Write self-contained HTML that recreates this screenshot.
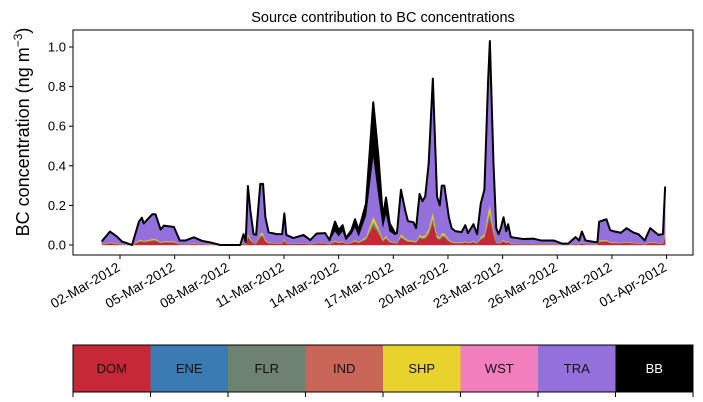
<!DOCTYPE html>
<html><head><meta charset="utf-8">
<style>
body{margin:0;background:#fff;}
svg{font-family:"Liberation Sans","DejaVu Sans",sans-serif;display:block;}
</style></head>
<body>
<svg id="chart" width="703" height="402" viewBox="0 0 703 402" xmlns="http://www.w3.org/2000/svg">
<text x="383" y="22" text-anchor="middle" font-size="14.5">Source contribution to BC concentrations</text>
<text transform="translate(29,132) rotate(-90)" text-anchor="middle" font-size="18">BC concentration (ng m<tspan baseline-shift="super" font-size="12">−3</tspan>)</text>
<g id="areas"></g>
<g id="axes"></g>
<rect x="73" y="30" width="620" height="225" fill="none" stroke="#000" stroke-width="1"/>
<g id="legend"></g>
</svg>
<script>
const days=[1.0,1.45,1.84,2.1,2.66,3.04,3.2,3.3,3.77,3.95,4.23,4.41,4.96,5.28,5.6,6.05,6.5,6.96,7.5,8.6,8.78,8.9,9.02,9.15,9.33,9.47,9.7,9.85,9.98,10.16,10.6,10.9,11.02,11.13,11.52,12.07,12.44,12.8,13.26,13.5,13.8,14.0,14.22,14.4,14.7,14.9,15.1,15.5,15.9,16.18,16.43,16.6,16.8,17.1,17.2,17.42,17.65,17.8,18.1,18.25,18.44,18.6,18.75,18.94,19.17,19.4,19.55,19.66,19.8,20.05,20.2,20.4,20.75,20.95,21.1,21.4,21.6,21.8,22.0,22.2,22.3,22.5,22.65,22.78,22.9,23.05,23.2,23.3,23.45,24.15,24.7,25.1,25.8,26.25,26.6,27.0,27.2,27.35,27.55,28.2,28.3,28.7,28.9,29.15,29.5,29.8,30.2,30.45,30.8,31.1,31.55,31.8,31.92];
const DOM=[.002,.009,.005,.002,0,.015,.018,.014,.020,.020,.010,.013,.012,.003,.003,.005,.003,.002,0,0,.007,.002,.039,.023,.007,.007,.040,.040,.018,.008,.007,.007,.021,.007,.005,.007,.003,.008,.008,.003,.015,.010,.013,.005,.010,.017,.010,.027,.094,.059,.018,.031,.014,.008,.008,.036,.023,.016,.015,.011,.034,.029,.032,.053,.109,.032,.026,.039,.039,.018,.011,.009,.008,.013,.008,.014,.007,.027,.036,.107,.134,.053,.011,.007,.011,.018,.009,.014,.005,.004,.004,.003,.003,.001,.001,.005,.003,.009,.003,.002,.015,.017,.010,.009,.008,.011,.008,.007,.003,.011,.007,.007,.038];
const FLR=[.001,.002,.001,.001,0,.004,.004,.003,.005,.005,.002,.003,.003,.001,.001,.001,.001,0,0,0,.002,0,.009,.005,.002,.002,.009,.009,.004,.002,.002,.002,.005,.002,.001,.002,.001,.002,.002,.001,.004,.002,.003,.001,.002,.004,.002,.006,.022,.014,.004,.007,.003,.002,.002,.008,.005,.004,.003,.003,.008,.007,.007,.012,.025,.007,.006,.009,.009,.004,.003,.002,.002,.003,.002,.003,.002,.006,.008,.025,.031,.012,.003,.002,.003,.004,.002,.003,.001,.001,.001,.001,.001,0,0,.001,.001,.002,.001,0,.004,.004,.002,.002,.002,.003,.002,.002,.001,.003,.002,.002,.009];
const SHP=[.001,.003,.002,.001,0,.005,.006,.004,.006,.006,.003,.004,.004,.001,.001,.002,.001,.001,0,0,.002,.001,.012,.007,.002,.002,.012,.012,.006,.003,.002,.002,.006,.002,.001,.002,.001,.002,.002,.001,.005,.003,.004,.001,.003,.005,.003,.008,.029,.018,.006,.010,.004,.002,.002,.011,.007,.005,.005,.003,.010,.009,.010,.016,.034,.010,.008,.012,.012,.006,.003,.003,.003,.004,.002,.004,.002,.008,.011,.033,.041,.016,.003,.002,.003,.006,.003,.004,.002,.001,.001,.001,.001,0,0,.002,.001,.003,.001,.001,.005,.005,.003,.003,.002,.003,.002,.002,.001,.003,.002,.002,.012];
const TRA=[.011,.051,.031,.011,0,.091,.107,.085,.121,.121,.060,.075,.069,.015,.015,.028,.013,.007,0,0,.041,.009,.235,.139,.041,.037,.245,.245,.109,.048,.041,.041,.125,.037,.025,.037,.017,.043,.045,.017,.046,.03,.05,.018,.04,.064,.03,.108,.306,.16,.062,.112,.048,.038,.045,.221,.139,.093,.089,.065,.203,.173,.193,.325,.669,.193,.157,.237,.237,.109,.065,.053,.049,.077,.045,.081,.041,.165,.221,.653,.821,.325,.065,.041,.065,.109,.053,.081,.029,.021,.023,.015,.015,.003,.003,.029,.015,.051,.015,.007,.091,.101,.057,.051,.047,.065,.047,.041,.015,.065,.037,.041,.233];
const BB=[.003,.003,.003,.003,0,.003,.003,.003,.003,.003,.003,.003,.003,.003,.003,.003,.003,.003,0,0,.003,.003,.003,.003,.003,.003,.003,.003,.003,.003,.003,.003,.003,.003,.003,.003,.003,.003,.003,.003,.048,.03,.03,.01,.02,.04,.03,.06,.27,.2,.05,.08,.04,.01,.003,.003,.003,.003,.003,.003,.003,.003,.003,.003,.003,.003,.003,.003,.003,.003,.003,.003,.003,.003,.003,.003,.003,.003,.003,.003,.003,.003,.003,.003,.003,.003,.003,.003,.003,.003,.003,.003,.003,.003,.003,.003,.003,.003,.003,.003,.003,.003,.003,.003,.003,.003,.003,.003,.003,.003,.003,.003,.003];
const yTicks=[0,0.2,0.4,0.6,0.8,1.0];
const yTickLabels=["0.0","0.2","0.4","0.6","0.8","1.0"];
const xTickDays=[2,5,8,11,14,17,20,23,26,29,32];
const xTickLabels=["02-Mar-2012","05-Mar-2012","08-Mar-2012","11-Mar-2012","14-Mar-2012","17-Mar-2012","20-Mar-2012","23-Mar-2012","26-Mar-2012","29-Mar-2012","01-Apr-2012"];
const legendNames=["DOM","ENE","FLR","IND","SHP","WST","TRA","BB"];
const legendColors=["#c62838","#3a7bb3","#6e8272","#c96658","#e8d22e","#f27fbd","#9370db","#000000"];

const NS="http://www.w3.org/2000/svg";
const X=d=>120+(d-2)*18.22;
const Y=v=>245-v*198;
function mk(t,a,p){const e=document.createElementNS(NS,t);for(const k in a)e.setAttribute(k,a[k]);p.appendChild(e);return e;}
const areas=document.getElementById('areas');
const layers=[[DOM,"#c62838","layer-dom"],[FLR,"#6e8272","layer-flr"],[SHP,"#e8c62e","layer-shp"],[TRA,"#9370db","layer-tra"],[BB,"#000000","layer-bb"]];
const n=Math.min(days.length,DOM.length,FLR.length,SHP.length,TRA.length,BB.length);
let base=new Array(n).fill(0);
layers.forEach(([arr,col,name])=>{
  const top=base.map((b,i)=>b+arr[i]);
  let d="M"+X(days[0])+","+Y(top[0]);
  for(let i=1;i<n;i++)d+="L"+X(days[i]).toFixed(2)+","+Y(top[i]).toFixed(2);
  for(let i=n-1;i>=0;i--)d+="L"+X(days[i]).toFixed(2)+","+Y(base[i]).toFixed(2);
  d+="Z";
  const p=mk('path',{d:d,fill:col,stroke:col,'stroke-width':0.4},areas);
  
  
  base=top;
});
let ld="M"+X(days[0])+","+Y(base[0]);
for(let i=1;i<n;i++)ld+="L"+X(days[i]).toFixed(2)+","+Y(base[i]).toFixed(2);
const tl=mk('path',{d:ld,fill:'none',stroke:'#000','stroke-width':2,'stroke-linejoin':'round'},areas);



const axes=document.getElementById('axes');
yTicks.forEach((v,i)=>{
  const l=mk('line',{x1:69,x2:73,y1:Y(v),y2:Y(v),stroke:'#000'},axes);
  
  
  const t=mk('text',{x:66,y:Y(v)+4.5,'text-anchor':'end','font-size':13},axes);
  
  
  t.textContent=yTickLabels[i];
});
xTickDays.forEach((d,i)=>{
  const l=mk('line',{x1:X(d),x2:X(d),y1:255,y2:259,stroke:'#000'},axes);
  
  
  const t=mk('text',{transform:`translate(${X(d)+1},${270}) rotate(-30)`,'text-anchor':'end','font-size':13.5},axes);
  
  
  t.textContent=xTickLabels[i];
});

const lg=document.getElementById('legend');
const w=620/legendNames.length;
legendNames.forEach((nm,i)=>{
  const r=mk('rect',{x:73+i*w,y:345,width:w,height:47,fill:legendColors[i]},lg);
  
  
  const t=mk('text',{x:73+i*w+w/2,y:373,'text-anchor':'middle','font-size':13,fill:nm==="BB"?'#fff':'#111'},lg);
  
  
  t.textContent=nm;
});
for(let i=0;i<=legendNames.length;i++){
  const l=mk('line',{x1:73+i*w,x2:73+i*w,y1:392,y2:397,stroke:'#000'},lg);
  
  
}
const fr=mk('rect',{x:73,y:345,width:620,height:47,fill:'none',stroke:'#000'},lg);


</script>
</body></html>
